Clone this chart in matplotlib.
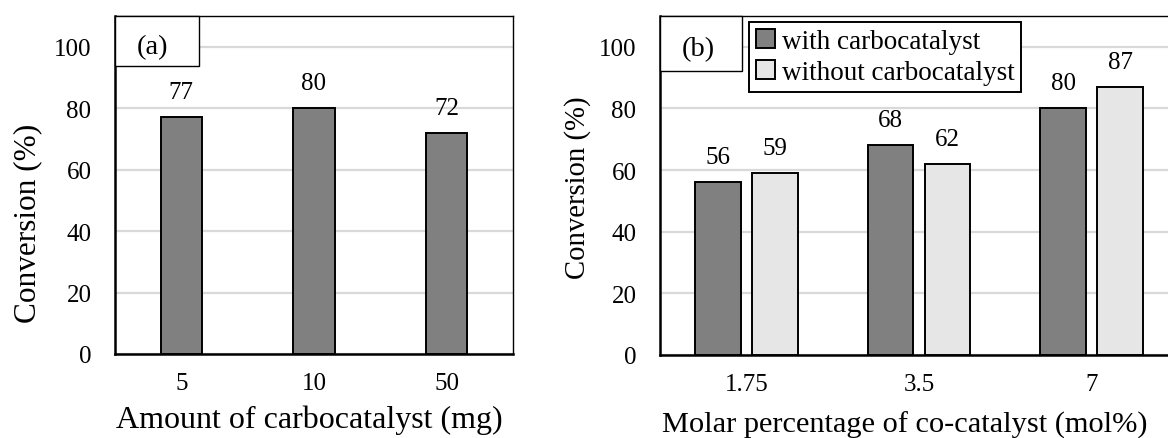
import matplotlib
matplotlib.use("Agg")
import matplotlib.pyplot as plt
from matplotlib.patches import Rectangle, Patch

plt.rcParams['font.family'] = ['Liberation Serif', 'DejaVu Serif']

# Panel (a): effect of carbocatalyst amount
amount_labels = ["5", "10", "50"]
amount_conv = [77, 80, 72]

# Panel (b): effect of co-catalyst loading
cocat_labels = ["1.75", "3.5", "7"]
with_carbo = [56, 68, 80]
without_carbo = [59, 62, 87]

DARK = "#808080"
LIGHT = "#e6e6e6"
GRID = "#d9d9d9"

W, H = 1168, 439
fig = plt.figure(figsize=(W / 100, H / 100), dpi=100)


def style_axes(ax, labels):
    ax.set_ylim(0, 110)
    ax.set_xlim(-0.5, len(labels) - 0.5)
    ax.set_yticks([0, 20, 40, 60, 80, 100])
    ax.set_xticks(range(len(labels)))
    ax.set_xticklabels(labels)
    ax.tick_params(axis='both', length=0, labelsize=18)
    ax.tick_params(axis='y', pad=17)
    ax.tick_params(axis='x', pad=13)
    ax.yaxis.grid(True, color=GRID, linewidth=1.6)
    ax.set_axisbelow(True)
    for side in ("left", "bottom"):
        ax.spines[side].set_linewidth(1.8)
        ax.spines[side].set_color("black")
    for side in ("top", "right"):
        ax.spines[side].set_linewidth(1.0)
        ax.spines[side].set_color("black")


def panel_tag(ax, text, x1, y0, tx, ty):
    ax.add_patch(Rectangle((0, y0), x1, 1 - y0, transform=ax.transAxes,
                           facecolor="white", edgecolor="black", linewidth=1.0,
                           clip_on=False, zorder=5))
    ax.text(tx, ty, text, transform=ax.transAxes, ha="center", va="center",
            fontsize=20.5, zorder=6)


def value_labels(ax, bars, values):
    for b, v in zip(bars, values):
        ax.annotate(f"{v}", (b.get_x() + b.get_width() / 2, v),
                    xytext=(0, 18), textcoords="offset points",
                    ha="center", va="center", fontsize=18)


# ---- panel (a) ----
ax1 = fig.add_axes([115 / W, 1 - 355 / H, 398 / W, 338 / H])
style_axes(ax1, amount_labels)
xa = list(range(len(amount_labels)))
bars_a = ax1.bar(xa, amount_conv, width=0.31, color=DARK, edgecolor="black",
                 linewidth=1.4, zorder=3)
value_labels(ax1, bars_a, amount_conv)
panel_tag(ax1, "(a)", 0.211, 0.852, 0.093, 0.908)
fig.text(28 / W, 1 - 223 / H, "Conversion (%)", rotation=90, ha="center",
         va="center", fontsize=22.5)
fig.text(309 / W, 1 - 420 / H, "Amount of carbocatalyst (mg)", ha="center",
         va="center", fontsize=23)

# ---- panel (b) ----
ax2 = fig.add_axes([660 / W, 1 - 356 / H, 518 / W, 339 / H])
style_axes(ax2, cocat_labels)
xb = list(range(len(cocat_labels)))
off = 0.165
bw = 0.266
bars_w = ax2.bar([x - off for x in xb], with_carbo, width=bw, color=DARK,
                 edgecolor="black", linewidth=1.4, zorder=3)
bars_wo = ax2.bar([x + off for x in xb], without_carbo, width=bw, color=LIGHT,
                  edgecolor="black", linewidth=1.4, zorder=3)
value_labels(ax2, bars_w, with_carbo)
value_labels(ax2, bars_wo, without_carbo)
panel_tag(ax2, "(b)", 0.158, 0.838, 0.073, 0.903)

handles = [Patch(facecolor=DARK, edgecolor="black", linewidth=1.4),
           Patch(facecolor=LIGHT, edgecolor="black", linewidth=1.4)]
leg = ax2.legend(handles, ["with carbocatalyst", "without carbocatalyst"],
                 loc="upper left", bbox_to_anchor=(0.172, 0.982),
                 borderaxespad=0, fontsize=19.5, frameon=True, fancybox=False,
                 edgecolor="black", framealpha=1, handlelength=0.7,
                 handleheight=0.7, handletextpad=0.25, borderpad=0.25,
                 labelspacing=0.22)
leg.get_frame().set_linewidth(1.4)
leg.set_zorder(6)

fig.text(578 / W, 1 - 188 / H, "Conversion (%)", rotation=90, ha="center",
         va="center", fontsize=20.7)
fig.text(905 / W, 1 - 425 / H, "Molar percentage of co-catalyst (mol%)",
         ha="center", va="center", fontsize=21.9)

fig.savefig("out.png", dpi=100)
